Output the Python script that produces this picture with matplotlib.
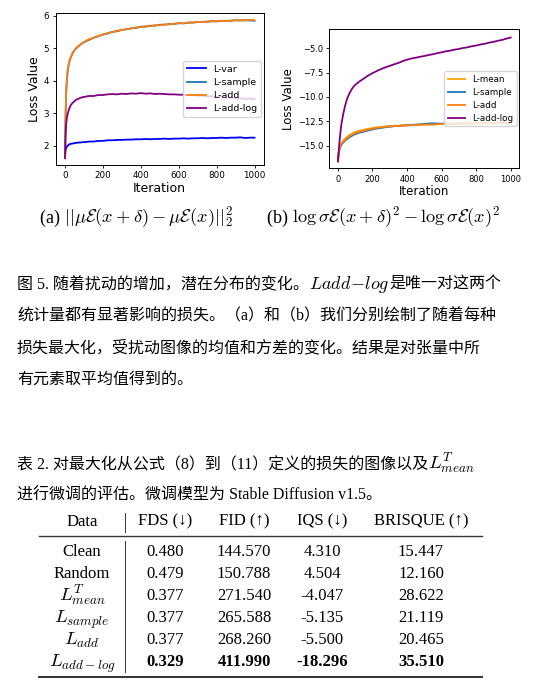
import matplotlib
matplotlib.use("Agg")
import matplotlib.pyplot as plt
from matplotlib.lines import Line2D

# ---------------- data ----------------
iters = [0, 3, 6, 10, 15, 20, 25, 30, 40, 50, 60, 70, 80, 90,
         100, 125, 150, 175, 200, 225, 250, 275, 300, 325, 350, 375, 400, 425, 450, 475,
         500, 525, 550, 575, 600, 625, 650, 675, 700, 725, 750, 775, 800, 825, 850, 875,
         900, 925, 950, 975, 1000]

# (a) mean difference
a_var = [1.62, 1.86, 1.93, 1.98, 2.01, 2.03, 2.05, 2.06, 2.07, 2.08, 2.09, 2.10, 2.10, 2.11,
         2.11, 2.13, 2.13, 2.15, 2.15, 2.17, 2.17, 2.18, 2.18, 2.19, 2.19, 2.20, 2.20, 2.21,
         2.20, 2.21, 2.21, 2.22, 2.21, 2.22, 2.22, 2.23, 2.22, 2.23, 2.23, 2.24, 2.23, 2.24,
         2.24, 2.25, 2.24, 2.25, 2.25, 2.26, 2.24, 2.25, 2.25]
a_sample = [1.62, 2.85, 3.58, 4.02, 4.33, 4.50, 4.62, 4.71, 4.84, 4.93, 5.00, 5.05, 5.10, 5.14,
            5.18, 5.25, 5.32, 5.36, 5.42, 5.45, 5.50, 5.52, 5.56, 5.58, 5.61, 5.62, 5.66, 5.66,
            5.69, 5.69, 5.72, 5.72, 5.74, 5.74, 5.77, 5.76, 5.78, 5.79, 5.80, 5.81, 5.81, 5.83,
            5.82, 5.84, 5.84, 5.84, 5.86, 5.85, 5.86, 5.85, 5.84]
a_add = [1.62, 2.90, 3.62, 4.05, 4.36, 4.52, 4.64, 4.72, 4.86, 4.94, 5.02, 5.06, 5.11, 5.15,
         5.19, 5.27, 5.31, 5.38, 5.41, 5.47, 5.49, 5.54, 5.55, 5.59, 5.60, 5.64, 5.64, 5.68,
         5.67, 5.71, 5.70, 5.73, 5.73, 5.75, 5.76, 5.77, 5.79, 5.78, 5.81, 5.80, 5.82, 5.82,
         5.83, 5.84, 5.83, 5.85, 5.85, 5.86, 5.85, 5.87, 5.86]
a_addlog = [1.62, 2.30, 2.65, 2.86, 3.00, 3.10, 3.18, 3.24, 3.32, 3.37, 3.42, 3.44, 3.47, 3.49,
            3.50, 3.53, 3.53, 3.56, 3.56, 3.58, 3.59, 3.58, 3.60, 3.59, 3.61, 3.60, 3.62, 3.60,
            3.61, 3.59, 3.60, 3.59, 3.58, 3.58, 3.57, 3.57, 3.55, 3.56, 3.54, 3.54, 3.52, 3.52,
            3.50, 3.50, 3.48, 3.48, 3.46, 3.46, 3.44, 3.45, 3.43]

# (b) log-variance difference
b_mean = [-16.60, -15.95, -15.50, -15.15, -14.90, -14.75, -14.60, -14.50, -14.30, -14.15, -14.00,
          -13.88, -13.78, -13.68,
          -13.60, -13.45, -13.35, -13.27, -13.20, -13.12, -13.08, -13.03, -13.00, -12.96, -12.95,
          -12.91, -12.90, -12.87, -12.87, -12.84, -12.83, -12.81, -12.81, -12.78, -12.77, -12.76,
          -12.75, -12.73, -12.73, -12.71, -12.71, -12.69, -12.69, -12.67, -12.68, -12.66, -12.65,
          -12.65, -12.63, -12.64, -12.62]
b_sample = [-16.60, -16.05, -15.70, -15.35, -15.10, -14.95, -14.80, -14.70, -14.50, -14.35, -14.22,
            -14.10, -14.00, -13.90,
            -13.82, -13.66, -13.55, -13.43, -13.33, -13.24, -13.18, -13.10, -13.05, -13.00, -12.97,
            -12.93, -12.90, -12.86, -12.84, -12.80, -12.76, -12.72, -12.70, -12.72, -12.74, -12.73,
            -12.74, -12.72, -12.73, -12.71, -12.70, -12.69, -12.70, -12.67, -12.68, -12.66, -12.66,
            -12.65, -12.64, -12.64, -12.62]
b_add = [-16.60, -16.00, -15.60, -15.25, -15.00, -14.85, -14.70, -14.60, -14.40, -14.25, -14.10,
         -13.98, -13.88, -13.78,
         -13.70, -13.55, -13.45, -13.33, -13.25, -13.16, -13.12, -13.05, -13.02, -12.98, -12.97,
         -12.93, -12.92, -12.88, -12.89, -12.85, -12.84, -12.82, -12.83, -12.79, -12.78, -12.77,
         -12.76, -12.74, -12.75, -12.72, -12.72, -12.70, -12.71, -12.68, -12.69, -12.67, -12.66,
         -12.66, -12.64, -12.65, -12.63]
b_addlog = [-16.60, -15.90, -15.20, -14.40, -13.50, -12.80, -12.30, -11.80, -11.00, -10.35, -9.90,
            -9.50, -9.20, -8.95,
            -8.75, -8.40, -8.10, -7.80, -7.55, -7.33, -7.13, -6.95, -6.80, -6.65, -6.50,
            -6.32, -6.17, -6.05, -5.97, -5.87, -5.79, -5.69, -5.61, -5.50, -5.41, -5.31,
            -5.24, -5.14, -5.07, -4.97, -4.90, -4.79, -4.72, -4.61, -4.54, -4.42, -4.34,
            -4.23, -4.14, -4.01, -3.90]

a_labels = ["L-var", "L-sample", "L-add", "L-add-log"]
b_labels = ["L-mean", "L-sample", "L-add", "L-add-log"]

# table
col_headers = ["Data", "FDS (↓)", "FID (↑)", "IQS (↓)", "BRISQUE (↑)"]
row_labels = ["Clean", "Random", r"$L^T_{mean}$", r"$L_{sample}$", r"$L_{add}$", r"$L_{add-log}$"]
fds = ["0.480", "0.479", "0.377", "0.377", "0.377", "0.329"]
fid = ["144.570", "150.788", "271.540", "265.588", "268.260", "411.990"]
iqs = ["4.310", "4.504", "-4.047", "-5.135", "-5.500", "-18.296"]
brisque = ["15.447", "12.160", "28.622", "21.119", "20.465", "35.510"]
bold_row = 5

cap_lines = [
    [("图 5. 随着扰动的增加，潜在分布的变化。", "t"), (r"$Ladd\!-\!log$", "m"), ("是唯一对这两个", "t")],
    [("统计量都有显著影响的损失。（a）和（b）我们分别绘制了随着每种", "t")],
    [("损失最大化，受扰动图像的均值和方差的变化。结果是对张量中所", "t")],
    [("有元素取平均值得到的。", "t")],
]
tab_cap_lines = [
    [("表 2. 对最大化从公式（8）到（11）定义的损失的图像以及", "t"), (r"$L^T_{mean}$", "m")],
    [("进行微调的评估。微调模型为 Stable Diffusion v1.5。", "t")],
]

# ---------------- figure ----------------
plt.rcParams["mathtext.fontset"] = "cm"
W, H = 547, 690
fig = plt.figure(figsize=(W / 100, H / 100), dpi=100)
renderer = fig.canvas.get_renderer()
SERIF = ["Liberation Serif", "Noto Sans CJK SC", "DejaVu Serif"]


def fx(px):
    return px / W


def fy(py):
    return 1 - py / H


def axes_px(l, t, r, b):
    return fig.add_axes([fx(l), fy(b), (r - l) / W, (b - t) / H])


def style_ax(ax, tick_fs, lab_fs):
    ax.tick_params(labelsize=tick_fs, length=2.5, width=0.6, pad=2)
    for s in ax.spines.values():
        s.set_linewidth(0.7)
    ax.set_xlabel("Iteration", fontsize=lab_fs, labelpad=1)
    ax.set_ylabel("Loss Value", fontsize=lab_fs, labelpad=2)
    ax.set_xlim(-50, 1050)
    ax.set_xticks([0, 200, 400, 600, 800, 1000])


# (a)
ax1 = axes_px(55.5, 13, 264, 165)
ax1.plot(iters, a_var, color="blue", lw=1.3, label=a_labels[0])
ax1.plot(iters, a_sample, color="#1f77b4", lw=1.3, label=a_labels[1])
ax1.plot(iters, a_add, color="#ff7f0e", lw=1.3, label=a_labels[2])
ax1.plot(iters, a_addlog, color="purple", lw=1.3, label=a_labels[3])
ax1.set_ylim(1.41, 6.08)
ax1.set_yticks([2, 3, 4, 5, 6])
style_ax(ax1, 6.3, 9)
ax1.legend(loc="center right", fontsize=6.8, handlelength=2.0, borderaxespad=0.3,
           labelspacing=0.45, framealpha=0.8)

# (b)
ax2 = axes_px(329.3, 29.3, 519.3, 168.3)
ax2.plot(iters, b_mean, color="orange", lw=1.3, label=b_labels[0])
ax2.plot(iters, b_sample, color="#1f77b4", lw=1.3, label=b_labels[1])
ax2.plot(iters, b_add, color="#ff7f0e", lw=1.3, label=b_labels[2])
ax2.plot(iters, b_addlog, color="purple", lw=1.3, label=b_labels[3])
ax2.set_ylim(-17.32, -3.05)
ax2.set_yticks([-5.0, -7.5, -10.0, -12.5, -15.0])
style_ax(ax2, 6.0, 8.5)
ax2.legend(loc="center right", fontsize=6.3, handlelength=2.0, borderaxespad=0.3,
           labelspacing=0.45, framealpha=0.8)


def run(x_px, y_px, parts, size, msize=None):
    x = x_px
    for s, kind in parts:
        fs = msize if (kind == "m" and msize) else size
        t = fig.text(fx(x), fy(y_px), s, fontsize=fs, family=SERIF,
                     va="baseline", ha="left")
        bb = t.get_window_extent(renderer)
        x += bb.width
    return x


# sub-captions
run(40, 223, [("(a) ", "t"), (r"$||\mu\mathcal{E}(x+\delta)-\mu\mathcal{E}(x)||_2^2$", "m")], 13, 13.2)
run(267, 223, [("(b) ", "t"), (r"$\log\sigma\mathcal{E}(x+\delta)^2-\log\sigma\mathcal{E}(x)^2$", "m")], 13, 13.2)

# figure caption
for parts, yb in zip(cap_lines, [289, 320.5, 352, 383.5]):
    run(17, yb, parts, 11.5, 13)

for parts, yb in zip(tab_cap_lines, [469, 500]):
    run(17, yb, parts, 11.5, 13.5)

# table
col_x = [82, 165, 244, 322, 421]
hdr_base = 525.7
for cx, h in zip(col_x, col_headers):
    fig.text(fx(cx), fy(hdr_base), h, fontsize=12, family=SERIF, ha="center", va="baseline")

row_base = [556.5, 578.5, 600.5, 622.5, 644.5, 666.5]
cols = [fds, fid, iqs, brisque]
for i, yb in enumerate(row_base):
    lab_fs = 13.5 if row_labels[i].startswith("$") else 12
    fig.text(fx(col_x[0]), fy(yb), row_labels[i], fontsize=lab_fs, family=SERIF,
             ha="center", va="baseline")
    for j, c in enumerate(cols):
        fig.text(fx(col_x[j + 1]), fy(yb), c[i], fontsize=12, family=SERIF,
                 ha="center", va="baseline",
                 weight="bold" if i == bold_row else "normal")

fig.add_artist(Line2D([fx(39), fx(482)], [fy(536), fy(536)], lw=1.0, color="#333333"))
fig.add_artist(Line2D([fx(39), fx(482)], [fy(677.3), fy(677.3)], lw=1.4, color="#333333"))
fig.add_artist(Line2D([fx(125), fx(125)], [fy(513), fy(532)], lw=0.7, color="#333333"))
fig.add_artist(Line2D([fx(125), fx(125)], [fy(541), fy(672)], lw=0.7, color="#333333"))

fig.savefig("out.png", dpi=100)
